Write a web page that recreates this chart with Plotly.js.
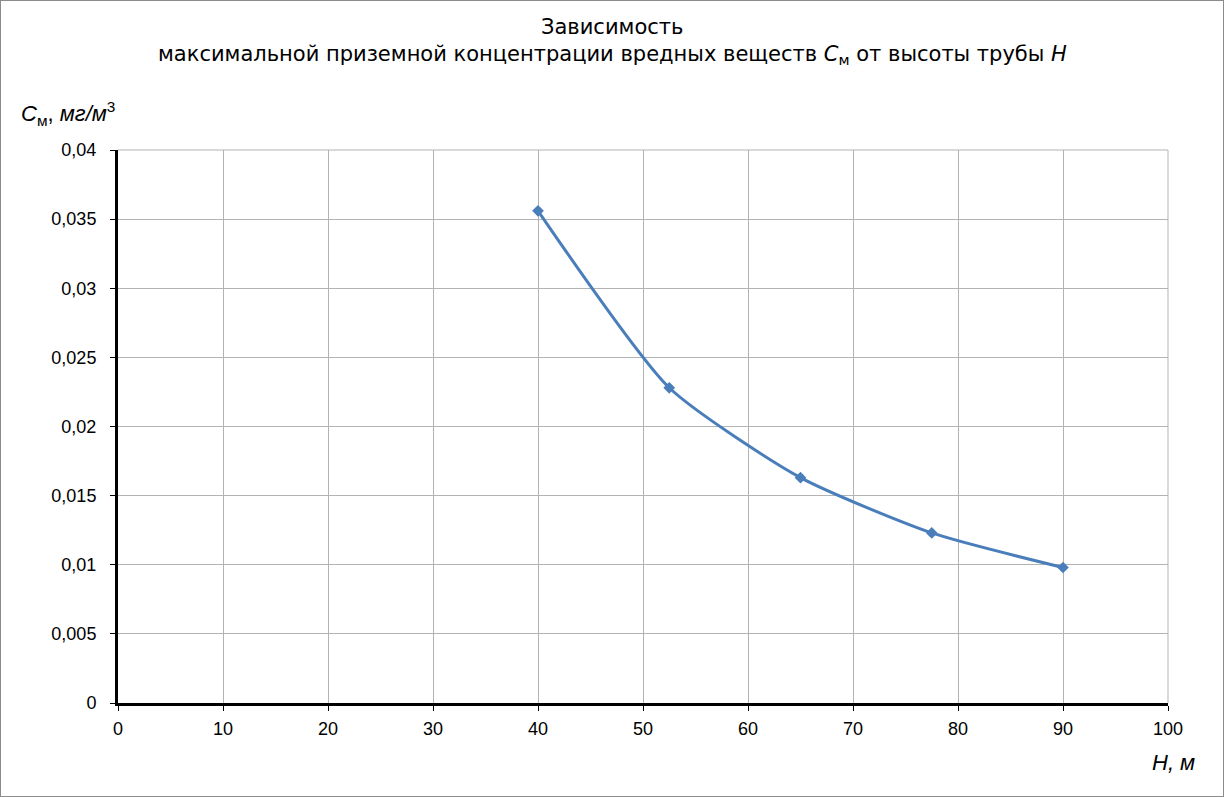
<!DOCTYPE html>
<html><head><meta charset="utf-8">
<script src="https://cdn.plot.ly/plotly-3.0.1.min.js"></script>
<style>html,body{margin:0;padding:0;background:#fff}#chart{width:1224px;height:797px;box-sizing:border-box;border:1px solid #8c8c8c}</style>
</head><body><div id="chart"></div>
<script>
const heightH = [40, 52.5, 65, 77.5, 90];
const concC = [0.0356, 0.0228, 0.0163, 0.0123, 0.0098];
const titleLine1 = 'Зависимость';
const titleLine2 = 'максимальной приземной концентрации вредных веществ <i>C</i><sub>м</sub> от высоты трубы <i>H</i>';
const yTitle = '<i>C</i><sub>м</sub>, <i>мг/м</i><sup>3</sup>';
const xTitle = '<i>H, м</i>';

const trace = {
  x: heightH, y: concC, type: 'scatter', mode: 'lines+markers',
  line: {color: '#4a7ebb', width: 3, shape: 'spline', smoothing: 0.6},
  marker: {symbol: 'diamond', size: 9, color: '#4a7ebb'}
};
const tf = {family: 'DejaVu Sans', size: 21, color: '#000'};
const af = {family: 'Liberation Sans, Arial', size: 18, color: '#000'};
const layout = {
  width: 1222, height: 795,
  margin: {l: 117, r: 55, t: 149, b: 93},
  paper_bgcolor: '#fff', plot_bgcolor: '#fff',
  separators: ', ',
  showlegend: false,
  xaxis: {range: [0, 100], dtick: 10, showgrid: true, gridcolor: '#b3b3b3', gridwidth: 1,
    showline: true, linecolor: '#000', linewidth: 3, ticks: 'outside', ticklen: 5, tickcolor: '#000', tickwidth: 1,
    ticklabelstandoff: 2,
    tickfont: af, zeroline: false, fixedrange: true},
  yaxis: {range: [0, 0.04], dtick: 0.005, showgrid: true, gridcolor: '#b3b3b3', gridwidth: 1,
    showline: true, linecolor: '#000', linewidth: 3, ticks: 'outside', ticklen: 5, tickcolor: '#000', tickwidth: 1,
    ticklabelstandoff: 10,
    tickfont: af, zeroline: false, fixedrange: true},
  shapes: [
    {type: 'line', xref: 'paper', yref: 'paper', x0: 0, x1: 1, y0: 1, y1: 1, line: {color: '#b3b3b3', width: 1}},
    {type: 'line', xref: 'paper', yref: 'paper', x0: 1, x1: 1, y0: 0, y1: 1, line: {color: '#b3b3b3', width: 1}}
  ],
  annotations: [
    {text: titleLine1, xref: 'paper', yref: 'paper', x: 0.4705, y: 1.223, xanchor: 'center', yanchor: 'middle', showarrow: false, font: tf},
    {text: titleLine2, xref: 'paper', yref: 'paper', x: 0.4705, y: 1.172, xanchor: 'center', yanchor: 'middle', showarrow: false, font: tf},
    {text: yTitle, xref: 'paper', yref: 'paper', x: -0.094, y: 1.066, xanchor: 'left', yanchor: 'middle', showarrow: false,
      font: {family: 'Liberation Sans, Arial', size: 22, color: '#000'}},
    {text: xTitle, xref: 'paper', yref: 'paper', x: 1.028, y: -0.107, xanchor: 'right', yanchor: 'middle', showarrow: false,
      font: {family: 'Liberation Sans, Arial', size: 22, color: '#000'}}
  ]
};
Plotly.newPlot('chart', [trace], layout, {displayModeBar: false, staticPlot: true});
</script></body></html>
